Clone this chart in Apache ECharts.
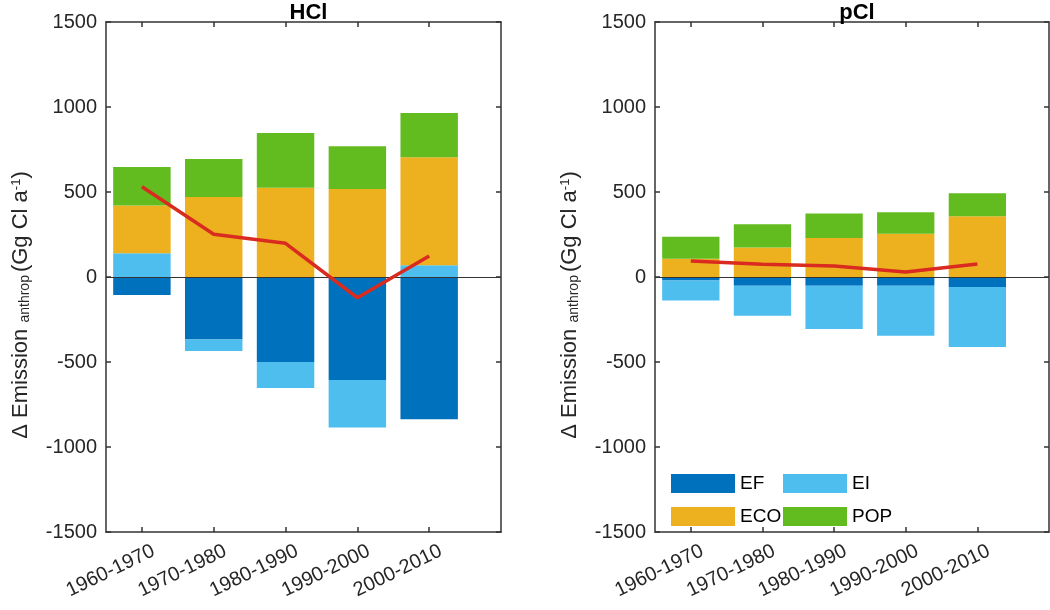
<!DOCTYPE html>
<html><head><meta charset="utf-8">
<script src="https://cdn.jsdelivr.net/npm/echarts@6/dist/echarts.min.js"></script>
<style>html,body{margin:0;padding:0;background:#fff}#c{width:1050px;height:610px}</style>
</head><body><div id="c"></div>
<script>
const categories = ['1960-1970', '1970-1980', '1980-1990', '1990-2000', '2000-2010'];
const yTicks = [-1500, -1000, -500, 0, 500, 1000, 1500];
const panelTitles = ['HCl', 'pCl'];
const seriesNames = ['EF', 'EI', 'ECO', 'POP'];

// HCl panel
const hclEF  = [-106, -367, -500, -606, -837];
const hclEI  = [139, -68, -153, -280, 69];
const hclECO = [282, 470, 525, 518, 635];
const hclPOP = [226, 224, 322, 251, 261];
const hclNet = [531, 251, 198, -122, 124];

// pCl panel
const pclEF  = [-20, -51, -51, -51, -59];
const pclEI  = [-118, -177, -255, -295, -353];
const pclECO = [108, 173, 230, 255, 357];
const pclPOP = [129, 137, 143, 126, 136];
const pclNet = [94, 75, 65, 29, 77];

const colors = { EF: '#0072BD', EI: '#4DBEEE', ECO: '#EDB120', POP: '#62BB1F' };
const netColor = '#D92B1F';
const axisColor = '#333333';
const textColor = '#262626';
const FONT = 'Liberation Sans, Arial, sans-serif';

const xPos = categories.map((c, i) => i + 1);
const X_MIN = 0.5, X_MAX = 6;

const panels = [
  { data: { EF: hclEF, EI: hclEI, ECO: hclECO, POP: hclPOP }, net: hclNet },
  { data: { EF: pclEF, EI: pclEI, ECO: pclECO, POP: pclPOP }, net: pclNet }
];

const W = 1050;
const frames = [
  { left: 106, width: 395, top: 22, bottom: 78 },
  { left: 655, width: 394, top: 22, bottom: 78 }
];

const yName = '{a|\u0394 Emission }{s|anthrop}{a|(Gg Cl a}{p|-1}{a|)}';

const grids = [], xAxes = [], yAxes = [], series = [], titles = [];
const yMin = yTicks[0], yMax = yTicks[yTicks.length - 1];

frames.forEach((f, pi) => {
  const frameGrid = grids.length;
  grids.push({ left: f.left, right: W - f.left - f.width, top: f.top, bottom: f.bottom });
  const catWidth = f.width / (X_MAX - X_MIN);
  const dataWidth = catWidth * categories.length;
  const dataGrid = grids.length;
  grids.push({ left: f.left, right: W - f.left - dataWidth, top: f.top, bottom: f.bottom });

  const lineStyle = { color: axisColor, width: 1.5 };
  const xb = xAxes.length;
  xAxes.push({
    type: 'value', gridIndex: frameGrid, min: X_MIN, max: X_MAX, position: 'bottom',
    axisLine: { show: true, onZero: false, lineStyle },
    axisTick: { show: true, inside: true, length: 5, customValues: xPos, lineStyle },
    axisLabel: {
      show: true, customValues: xPos.map(v => v + 0.1), rotate: 26, fontSize: 20,
      color: textColor, fontFamily: FONT, margin: 9, verticalAlign: 'top',
      formatter: v => categories[Math.round(v) - 1] || ''
    },
    splitLine: { show: false }
  });
  xAxes.push({
    type: 'value', gridIndex: frameGrid, min: X_MIN, max: X_MAX, position: 'top',
    axisLine: { show: true, onZero: false, lineStyle },
    axisTick: { show: true, inside: true, length: 5, customValues: xPos, lineStyle },
    axisLabel: { show: false }, splitLine: { show: false }
  });
  const yb = yAxes.length;
  yAxes.push({
    type: 'value', gridIndex: frameGrid, min: yMin, max: yMax, interval: 500, position: 'left',
    axisLine: { show: true, onZero: false, lineStyle },
    axisTick: { show: true, inside: true, length: 5, lineStyle },
    axisLabel: { fontSize: 20, color: textColor, fontFamily: FONT, margin: 9, formatter: v => String(v) },
    splitLine: { show: false },
    name: yName, nameLocation: 'middle', nameGap: 74,
    nameTextStyle: {
      color: textColor, fontFamily: FONT, padding: [0, 56, 0, 0],
      rich: {
        a: { fontSize: 22, color: textColor, fontFamily: FONT },
        s: { fontSize: 14, color: textColor, fontFamily: FONT, verticalAlign: 'bottom', padding: [0, 3, 0, 0] },
        p: { fontSize: 13, color: textColor, fontFamily: FONT, verticalAlign: 'top' }
      }
    }
  });
  yAxes.push({
    type: 'value', gridIndex: frameGrid, min: yMin, max: yMax, interval: 500, position: 'right',
    axisLine: { show: true, onZero: false, lineStyle },
    axisTick: { show: true, inside: true, length: 5, lineStyle },
    axisLabel: { show: false }, splitLine: { show: false }
  });
  const xd = xAxes.length;
  xAxes.push({ type: 'category', gridIndex: dataGrid, data: categories, boundaryGap: true, show: false });
  const yd = yAxes.length;
  yAxes.push({ type: 'value', gridIndex: dataGrid, min: yMin, max: yMax, interval: 500, show: false, splitLine: { show: false } });

  const p = panels[pi];
  seriesNames.forEach((nm) => {
    series.push({
      name: nm, type: 'bar', xAxisIndex: xd, yAxisIndex: yd,
      stack: 'tot' + pi, barWidth: '80%',
      itemStyle: { color: colors[nm] },
      data: p.data[nm]
    });
  });
  series.push({
    name: 'zero' + pi, type: 'line', xAxisIndex: xb, yAxisIndex: yb, data: [], z: 1,
    markLine: {
      silent: true, symbol: ['none', 'none'], label: { show: false },
      lineStyle: { color: axisColor, width: 1, type: 'solid' },
      data: [{ yAxis: 0 }]
    }
  });
  series.push({
    name: 'net', type: 'line', xAxisIndex: xd, yAxisIndex: yd,
    showSymbol: false, symbol: 'none', z: 5,
    lineStyle: { color: netColor, width: 3.5 },
    data: p.net
  });

  titles.push({
    text: panelTitles[pi], left: f.left + f.width / 2, top: -3, textAlign: 'center',
    textStyle: { fontSize: 22, fontWeight: 'bold', color: '#000', fontFamily: FONT }
  });
});

const legendCommon = {
  orient: 'vertical', itemWidth: 64, itemHeight: 19, itemGap: 14, icon: 'rect',
  textStyle: { fontSize: 19, color: '#000', fontFamily: FONT }, top: 469
};

const chart = echarts.init(document.getElementById('c'), null, { renderer: 'canvas' });
chart.setOption({
  animation: false,
  backgroundColor: '#fff',
  title: titles,
  grid: grids,
  xAxis: xAxes,
  yAxis: yAxes,
  legend: [
    Object.assign({ left: 666, data: ['EF', 'ECO'] }, legendCommon),
    Object.assign({ left: 778, data: ['EI', 'POP'] }, legendCommon)
  ],
  series: series
});
</script></body></html>
